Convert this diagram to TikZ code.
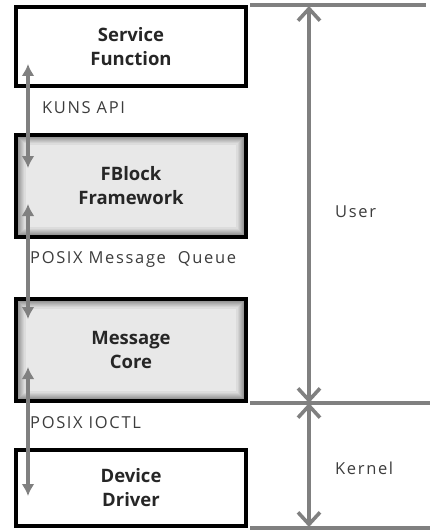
\documentclass[tikz,border=0pt]{standalone}
\usepackage{fontspec}
\setmainfont{Open Sans}
\usetikzlibrary{arrows.meta, positioning}

\definecolor{linegray}{HTML}{808080}
\definecolor{boxfill}{HTML}{E8E8E8}
\definecolor{txt}{HTML}{262626}

\begin{document}
\begin{tikzpicture}[x=1pt, y=-1pt,
    layer/.style={draw, line width=4pt, minimum width=230pt, align=center, inner sep=0pt,
        text=txt, font=\bfseries\fontsize{18.5}{24}\selectfont},
    shadedlayer/.style={layer, fill=boxfill, path picture={
        \foreach \i in {2,...,9}
            \draw [black!\the\numexpr 50-5*\i\relax!boxfill, line width=1.2pt]
                ([xshift=\i pt, yshift=\i pt]path picture bounding box.south west) rectangle
                ([xshift=-\i pt, yshift=-\i pt]path picture bounding box.north east);
    }},
    api/.style={anchor=west, inner sep=0pt, text=txt!90,
        font=\fontsize{16.5}{19}\selectfont\addfontfeatures{LetterSpace=10}},
    link/.style={draw=linegray, line width=3.6pt, {Latex[length=12pt,width=13pt]}-{Latex[length=12pt,width=13pt]}},
    span/.style={draw=linegray, line width=3.6pt,
        {Straight Barb[length=12pt,width=22pt,line width=3.6pt]}-{Straight Barb[length=12pt,width=22pt,line width=3.6pt]}},
    border/.style={draw=linegray, line width=3.6pt}
]
    \useasboundingbox (0,0) rectangle (430,532);

    % Software layers
    \node [layer, minimum height=79pt] (sf) at (131,46.5) {Service\\Function};
    \node [shadedlayer, minimum height=102pt] (fb) at (131,186) {FBlock\\Framework};
    \node [shadedlayer, minimum height=102pt] (mc) at (131,350) {Message\\Core};
    \node [layer, minimum height=76pt] (dd) at (131,488) {Device\\Driver};

    % Interfaces between layers
    \node [api] (kuns) at (42,108) {KUNS API};
    \node [api] (mq) at (30,259) {POSIX Message~~Queue};
    \node [api] (ioctl) at (30,423) {POSIX IOCTL};

    \coordinate (a1) at (28,64);  \coordinate (b1) at (28,168);
    \coordinate (a2) at (28,204); \coordinate (b2) at (28,319);
    \coordinate (a3) at (28,367); \coordinate (b3) at (28,496);
    \draw [link] (a1) -- (b1);
    \draw [link] (a2) -- (b2);
    \draw [link] (a3) -- (b3);

    % User / kernel space boundaries
    \coordinate (top) at ([xshift=2pt]sf.north east);
    \coordinate (mid) at ([xshift=2pt]mc.south east);
    \coordinate (bot) at ([xshift=2pt]dd.south east);
    \draw [border] (top) -- ++(176,0);
    \draw [border] (mid) -- ++(184,0);
    \draw [border] (bot) -- ++(184,0);

    \coordinate (u1) at (309,6);
    \coordinate (u2) at (309,403);
    \coordinate (k2) at (309,527);
    \draw [span] (u1) -- (u2);
    \draw [span] (u2) -- (k2);

    \node [api] (user) at (335,212) {User};
    \node [api] (kernel) at (335,468) {Kernel};
\end{tikzpicture}
\end{document}
